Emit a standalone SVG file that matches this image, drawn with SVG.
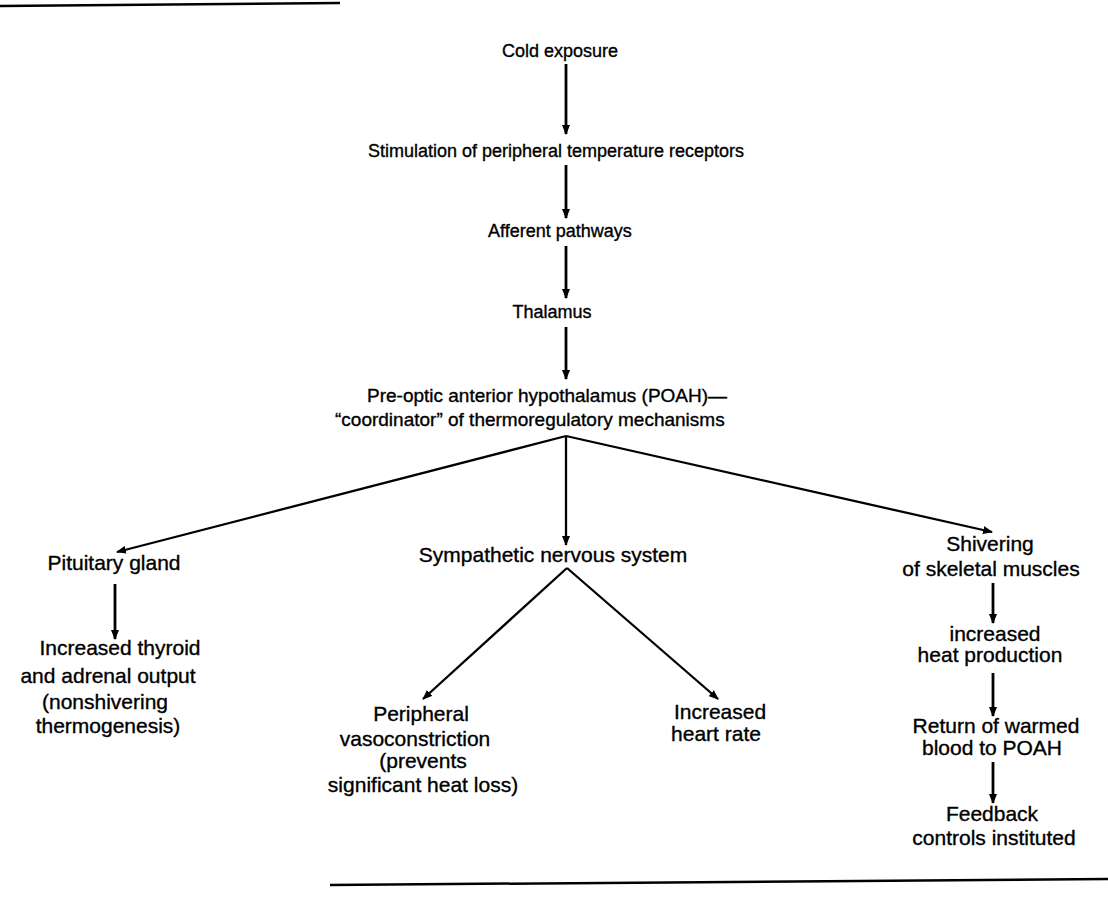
<svg xmlns="http://www.w3.org/2000/svg" width="1108" height="903" viewBox="0 0 1108 903">
<style>
  text { font-family: "Liberation Sans", Arial, sans-serif; font-size: 18px; fill: #000; stroke: #000; stroke-width: 0.35; }
  .c { text-anchor: middle; }
  .md { font-size: 19px; }
  .lg { font-size: 21px; }
  .conn line { stroke: #000; stroke-width: 2.8; fill: none; }
  .conn .d { stroke-width: 2.3; }
  .rule { stroke: #000; fill: none; }
</style>
<defs>
  <marker id="ah" markerUnits="userSpaceOnUse" markerWidth="10" markerHeight="8" refX="9" refY="4" orient="auto">
    <path d="M0,0 L10,4 L0,8 Z" fill="#000"/>
  </marker>
</defs>
<rect width="1108" height="903" fill="#fff"/>
<line class="rule" x1="0" y1="6" x2="340" y2="3" stroke-width="2.5"/>
<line class="rule" x1="330" y1="885" x2="1108" y2="879" stroke-width="2.5"/>

<g class="conn">
  <line x1="566" y1="64" x2="566" y2="134" marker-end="url(#ah)"/>
  <line x1="566" y1="165" x2="566" y2="218" marker-end="url(#ah)"/>
  <line x1="566" y1="246" x2="566" y2="298" marker-end="url(#ah)"/>
  <line x1="566" y1="327" x2="566" y2="379" marker-end="url(#ah)"/>
  <line class="d" x1="566" y1="436" x2="117" y2="552" marker-end="url(#ah)"/>
  <line class="d" x1="566" y1="436" x2="566" y2="545" marker-end="url(#ah)"/>
  <line class="d" x1="566" y1="436" x2="992" y2="532" marker-end="url(#ah)"/>
  <line x1="115" y1="584" x2="115" y2="639" marker-end="url(#ah)"/>
  <line class="d" x1="567" y1="568" x2="423" y2="699" marker-end="url(#ah)"/>
  <line class="d" x1="567" y1="568" x2="718" y2="699" marker-end="url(#ah)"/>
  <line x1="993" y1="583" x2="993" y2="623" marker-end="url(#ah)"/>
  <line x1="993" y1="673" x2="993" y2="716" marker-end="url(#ah)"/>
  <line x1="993" y1="762" x2="993" y2="803" marker-end="url(#ah)"/>
</g>

<g id="cold-exposure"><text class="c" x="560" y="57">Cold exposure</text></g>
<g id="stimulation"><text class="c" x="556" y="157">Stimulation of peripheral temperature receptors</text></g>
<g id="afferent"><text class="c" x="560" y="237">Afferent pathways</text></g>
<g id="thalamus"><text class="c" x="552" y="318">Thalamus</text></g>
<g id="poah">
  <text class="md" x="367" y="402">Pre-optic anterior hypothalamus (POAH)—</text>
  <text class="md" x="335" y="426">“coordinator” of thermoregulatory mechanisms</text>
</g>
<g id="pituitary"><text class="c lg" x="114" y="570">Pituitary gland</text></g>
<g id="sympathetic"><text class="c lg" x="553" y="562">Sympathetic nervous system</text></g>
<g id="shivering">
  <text class="c lg" x="990" y="551">Shivering</text>
  <text class="c lg" x="991" y="576">of skeletal muscles</text>
</g>
<g id="thyroid">
  <text class="c lg" x="120" y="655">Increased thyroid</text>
  <text class="c lg" x="108" y="683">and adrenal output</text>
  <text class="c lg" x="105" y="709">(nonshivering</text>
  <text class="c lg" x="108" y="733">thermogenesis)</text>
</g>
<g id="vasoconstriction">
  <text class="c lg" x="421" y="721">Peripheral</text>
  <text class="c lg" x="415" y="746">vasoconstriction</text>
  <text class="c lg" x="423" y="768">(prevents</text>
  <text class="c lg" x="423" y="792">significant heat loss)</text>
</g>
<g id="heart-rate">
  <text class="c lg" x="720" y="719">Increased</text>
  <text class="c lg" x="716" y="741">heart rate</text>
</g>
<g id="heat-production">
  <text class="c lg" x="995" y="641">increased</text>
  <text class="c lg" x="990" y="662">heat production</text>
</g>
<g id="return-blood">
  <text class="c lg" x="996" y="733">Return of warmed</text>
  <text class="c lg" x="992" y="755">blood to POAH</text>
</g>
<g id="feedback">
  <text class="c lg" x="992" y="821">Feedback</text>
  <text class="c lg" x="994" y="845">controls instituted</text>
</g>
</svg>
